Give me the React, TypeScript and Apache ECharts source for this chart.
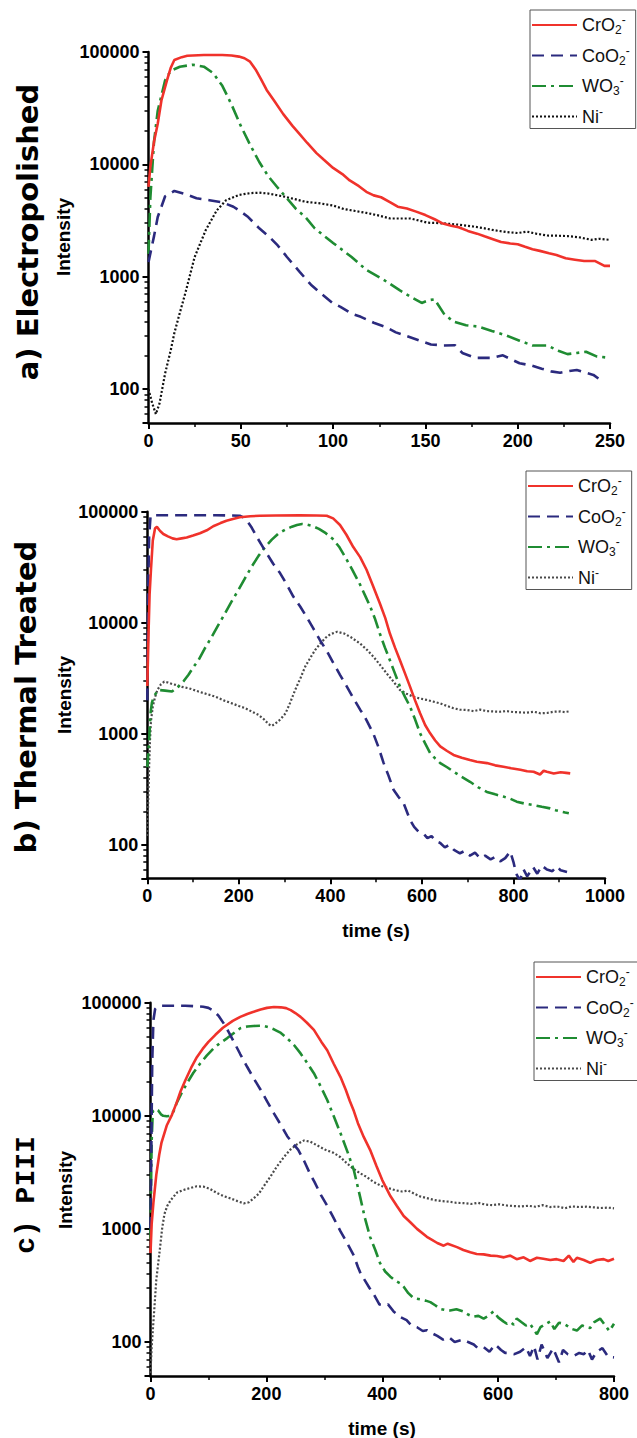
import React, { useEffect, useRef } from 'react';
import * as echarts from 'echarts';

type Pt = [number, number];

// ---------- labels ----------
const SERIES_NAMES = ['CrO2-', 'CoO2-', 'WO3-', 'Ni-'];
const Y_TICK_VALUES = [100, 1000, 10000, 100000];
const PANEL_TITLES = ['a) Electropolished', 'b) Thermal Treated', 'c) PIII'];
const Y_AXIS_TITLE = 'Intensity';
const X_AXIS_TITLE = 'time (s)';

// ---------- panel a : Electropolished (time 0-250 s) ----------
const aCrO2: Pt[] = [[0,6300],[1,9500],[3,16000],[5,23000],[7,37000],[10,56000],[12,72000],[14,85000],[18,90000],[21,92500],[30,94000],[40,94000],[45,93000],[49,91000],[52,88000],[55,82000],[58,70000],[61,57000],[64,46000],[68,37000],[73,28000],[78,22000],[82,18500],[86,15500],[91,12600],[95,11000],[100,9300],[105,8200],[109,7200],[114,6400],[118,5700],[122,5300],[126,5100],[131,4600],[135,4200],[140,4050],[145,3800],[150,3540],[155,3250],[159,3000],[164,2850],[168,2760],[173,2560],[178,2420],[182,2290],[187,2150],[191,2040],[196,1980],[200,1950],[204,1850],[208,1760],[212,1700],[217,1620],[221,1560],[226,1460],[231,1420],[236,1380],[242,1380],[247,1250],[250,1250]];
const aCoO2: Pt[] = [[0,1350],[3,2300],[5,3400],[9,5200],[14,5800],[19,5500],[26,5000],[33,4800],[40,4600],[46,4200],[50,3800],[54,3400],[60,2700],[65,2300],[70,1900],[75,1500],[82,1100],[88,850],[93,720],[100,580],[104,540],[110,470],[115,440],[122,390],[128,360],[134,320],[140,296],[147,270],[153,250],[160,245],[166,246],[170,210],[177,190],[186,190],[192,200],[201,170],[207,163],[213,152],[218,144],[223,140],[228,145],[232,148],[237,140],[241,134],[246,117]];
const aWO3: Pt[] = [[0,1600],[1,5000],[3,16000],[5,30000],[9,56000],[12,68000],[17,74000],[24,77000],[30,74000],[35,65000],[40,50000],[45,34000],[50,22000],[55,15000],[60,10500],[65,7800],[70,6200],[75,5000],[80,4000],[85,3400],[90,2700],[100,2000],[110,1500],[118,1150],[127,950],[136,760],[143,650],[148,585],[152,620],[155,630],[160,470],[165,400],[172,370],[179,360],[186,330],[194,300],[201,270],[208,245],[216,245],[222,220],[227,205],[232,210],[237,215],[243,195],[250,190]];
const aNi: Pt[] = [[0,100],[2,75],[4,60],[6,75],[9,138],[12,220],[14,316],[17,480],[20,720],[25,1500],[31,2600],[37,3900],[42,4800],[49,5350],[55,5550],[60,5600],[65,5500],[74,5150],[85,4650],[93,4500],[100,4300],[106,4000],[112,3850],[118,3700],[125,3500],[131,3300],[137,3300],[142,3300],[147,3150],[151,3030],[158,3000],[164,2950],[170,2880],[176,2800],[182,2700],[187,2600],[194,2500],[200,2450],[205,2520],[210,2420],[216,2330],[222,2320],[227,2300],[233,2250],[240,2130],[244,2180],[250,2130]];

// ---------- panel b : Thermal Treated (time 0-1000 s) ----------
const bCrO2: Pt[] = [[0,2700],[3,9000],[5,18000],[8,30000],[12,55000],[17,71000],[21,73000],[28,67000],[35,63000],[45,60000],[55,57500],[64,56500],[75,57500],[86,58500],[100,61000],[115,64000],[130,68000],[144,74000],[160,79000],[173,83000],[187,86000],[202,89000],[225,91000],[246,92000],[280,92500],[333,93000],[370,92500],[392,92000],[406,87000],[421,76000],[435,62000],[450,48000],[465,39000],[479,30000],[493,21500],[508,15000],[520,11000],[530,8000],[541,6000],[552,4600],[563,3500],[574,2660],[585,2000],[596,1530],[607,1200],[618,1010],[629,870],[640,770],[655,700],[669,645],[687,610],[705,580],[720,560],[742,545],[760,520],[778,505],[795,490],[815,475],[830,460],[844,455],[858,430],[866,465],[873,455],[888,440],[903,450],[915,445],[924,440]];
const bCoO2: Pt[] = [[0,2000],[2,20000],[4,60000],[7,90000],[10,93000],[50,93000],[100,93000],[150,93000],[202,92000],[210,89000],[217,84000],[228,72000],[239,59500],[250,50000],[261,42000],[275,34000],[290,28000],[305,22000],[319,17200],[334,14000],[348,11300],[362,9000],[377,7000],[392,5600],[407,4300],[421,3400],[436,2660],[450,2100],[465,1650],[472,1500],[480,1300],[494,1000],[505,760],[516,550],[527,420],[538,313],[549,270],[560,237],[567,200],[574,168],[583,145],[592,132],[603,127],[612,115],[621,120],[630,108],[640,104],[650,95],[660,100],[670,90],[683,84],[693,88],[705,80],[716,85],[727,76],[738,80],[750,74],[760,78],[771,71],[782,76],[793,87],[800,70],[806,55],[814,48],[822,60],[830,52],[843,63],[852,55],[862,65],[873,60],[885,58],[895,64],[903,59],[917,57]];
const bWO3: Pt[] = [[0,500],[2,650],[4,880],[7,1530],[10,1900],[14,2160],[24,2480],[39,2450],[54,2400],[68,2660],[80,3000],[90,3400],[101,4000],[112,4620],[126,5900],[141,7500],[155,9500],[170,12200],[184,15500],[199,19700],[213,25000],[228,32000],[243,40000],[258,48400],[272,56000],[287,63800],[302,69000],[316,73300],[327,76000],[338,77500],[349,76500],[360,74500],[375,70000],[390,64000],[405,57000],[419,48400],[434,38000],[448,29900],[465,22000],[477,17200],[487,14000],[497,11000],[508,8000],[519,6000],[530,4600],[541,3500],[552,2660],[563,2150],[574,1760],[585,1350],[596,1010],[607,820],[618,670],[629,600],[640,545],[655,500],[669,457],[687,410],[705,370],[723,330],[742,300],[760,285],[778,272],[793,260],[807,245],[825,235],[844,228],[862,220],[880,213],[892,205],[903,200],[913,196],[921,193]];
const bNi: Pt[] = [[0,120],[2,250],[4,507],[6,900],[8,1300],[12,1760],[17,2150],[22,2480],[30,2800],[37,2950],[45,2900],[55,2800],[62,2760],[75,2650],[91,2570],[100,2500],[112,2400],[130,2280],[149,2160],[167,2000],[185,1880],[200,1780],[214,1700],[229,1580],[243,1480],[255,1350],[265,1220],[272,1180],[280,1240],[291,1350],[302,1530],[312,1900],[323,2480],[335,3200],[345,4030],[357,4900],[367,5700],[378,6500],[389,7300],[400,7900],[415,8300],[430,8000],[445,7400],[465,6500],[480,5700],[494,4950],[508,4200],[523,3500],[538,2950],[552,2480],[566,2300],[581,2160],[595,2080],[610,2020],[625,1950],[640,1880],[655,1780],[669,1700],[683,1650],[698,1640],[713,1600],[727,1650],[742,1600],[756,1590],[770,1580],[785,1600],[800,1570],[815,1560],[829,1550],[845,1580],[859,1530],[873,1540],[888,1580],[903,1590],[912,1570],[921,1590]];

// ---------- panel c : PIII (time 0-800 s) ----------
const cCrO2: Pt[] = [[0,610],[2,1100],[5,1700],[10,3000],[15,4500],[19,5800],[28,8200],[37,10200],[45,13000],[52,16500],[60,20500],[70,26500],[80,33000],[90,39000],[100,45000],[112,52000],[125,60000],[142,69000],[155,75000],[167,79500],[178,83000],[190,87000],[201,90000],[213,91500],[225,91000],[234,89500],[242,86000],[250,81000],[259,75000],[270,66500],[282,57500],[295,45000],[305,38000],[316,29000],[328,22000],[337,17000],[344,13500],[351,11000],[358,8600],[368,6500],[379,5000],[390,3600],[400,2700],[414,1950],[425,1600],[437,1300],[448,1150],[460,1000],[477,850],[483,815],[495,750],[506,710],[513,740],[529,690],[540,650],[552,620],[563,600],[575,595],[587,580],[598,575],[610,560],[621,580],[632,540],[644,560],[655,520],[667,555],[678,545],[690,530],[701,540],[713,520],[722,580],[730,510],[736,555],[748,530],[759,500],[770,530],[782,540],[790,520],[800,545]];
const cCoO2: Pt[] = [[0,1000],[1,3000],[2,10000],[3,30000],[5,70000],[8,88000],[12,92000],[20,94000],[40,94000],[60,94000],[80,93000],[91,92000],[100,90000],[109,85000],[118,76000],[126,66000],[135,55000],[144,45000],[155,35000],[167,27000],[178,21500],[190,17000],[201,13500],[213,10500],[225,8300],[236,6600],[247,5600],[255,5000],[265,4000],[275,3100],[283,2600],[294,2000],[305,1600],[316,1250],[328,950],[340,740],[351,580],[358,460],[363,400],[370,350],[378,300],[386,260],[395,215],[404,210],[410,215],[420,185],[432,165],[442,156],[450,140],[460,135],[470,125],[477,127],[485,120],[495,113],[505,105],[515,110],[525,100],[540,105],[548,100],[558,95],[565,88],[575,90],[585,82],[595,95],[605,85],[612,80],[618,80],[628,78],[638,82],[648,90],[655,75],[662,92],[668,70],[675,95],[685,72],[695,88],[705,66],[712,85],[720,78],[730,75],[740,80],[748,78],[755,85],[762,70],[770,82],[780,88],[790,74],[800,73]];
const cWO3: Pt[] = [[0,800],[1,2500],[2,6000],[4,11000],[8,11500],[13,11200],[18,10300],[22,10000],[28,9900],[34,10000],[40,11000],[45,12900],[54,16000],[63,19400],[74,24000],[86,29100],[97,34000],[109,39500],[120,44000],[132,48400],[144,54000],[155,59400],[167,61500],[178,62300],[190,62500],[196,62300],[205,60500],[213,58200],[225,54000],[236,48400],[248,42000],[259,35600],[270,29500],[282,23800],[293,18500],[305,13800],[316,10000],[328,7000],[340,4800],[351,3300],[362,1900],[370,1250],[379,850],[388,650],[396,500],[405,420],[414,378],[422,350],[431,330],[437,308],[445,270],[454,244],[466,238],[475,232],[483,225],[492,210],[500,196],[508,192],[517,190],[528,195],[540,186],[548,175],[557,167],[566,170],[575,161],[583,170],[592,186],[600,165],[609,152],[615,145],[621,150],[627,142],[632,161],[640,150],[648,140],[655,145],[661,130],[667,117],[673,135],[680,142],[690,152],[697,130],[705,148],[713,145],[720,138],[728,130],[736,126],[745,140],[752,135],[759,133],[766,150],[776,161],[785,140],[792,125],[800,145]];
const cNi: Pt[] = [[0,53],[2,90],[5,150],[8,250],[10,355],[13,480],[16,650],[20,1000],[24,1350],[29,1600],[35,1800],[46,2100],[56,2200],[69,2300],[80,2380],[92,2360],[103,2250],[115,2070],[126,1950],[138,1860],[150,1760],[161,1680],[170,1720],[178,1860],[187,2050],[195,2360],[207,2900],[218,3550],[230,4300],[241,5000],[253,5600],[265,6050],[276,5900],[287,5500],[302,5000],[316,4700],[328,4300],[339,3800],[350,3400],[362,3100],[372,2900],[385,2600],[398,2400],[410,2300],[422,2200],[434,2140],[445,2180],[455,2050],[465,1940],[477,1870],[490,1800],[503,1760],[515,1740],[528,1700],[540,1690],[553,1660],[565,1700],[578,1640],[590,1620],[602,1650],[615,1610],[627,1590],[640,1580],[652,1600],[665,1570],[677,1620],[690,1560],[702,1580],[715,1520],[727,1580],[740,1560],[752,1570],[765,1550],[777,1530],[790,1540],[800,1520]];

// ---------- styling ----------
const RED = '#f0322b';
const NAVY = '#2b2a7e';
const GREEN = '#1f8c32';
const SANS = "'Liberation Sans', Arial, sans-serif";
const WIDE = "'DejaVu Sans', Verdana, sans-serif";
const MONO = "'Liberation Mono', 'Courier New', monospace";

const LEGEND_RICH_TEXT: Record<string, string> = {
  'CrO2-': '{m|CrO}{sb|2}{sp|-}',
  'CoO2-': '{m|CoO}{sb|2}{sp|-}',
  'WO3-': '{m|WO}{sb|3}{sp|-}',
  'Ni-': '{m|Ni}{sp|-}',
};

interface PanelCfg {
  divTop: number;
  divHeight: number;
  grid: { left: number; top: number; width: number; height: number };
  xMax: number;
  xInterval: number;
  data: Pt[][];
  niColor: string;
  legendPos: { left: number; top: number };
  title: string;
  titleFont: string;
  titlePos: [number, number];
  intensityPos: [number, number];
  timePos?: [number, number];
}

const PANELS: PanelCfg[] = [
  {
    divTop: 0, divHeight: 470,
    grid: { left: 148.5, top: 52, width: 461.5, height: 371 },
    xMax: 250, xInterval: 50,
    data: [aCrO2, aCoO2, aWO3, aNi], niColor: '#111111',
    legendPos: { left: 530, top: 10 },
    title: PANEL_TITLES[0], titleFont: `bold 29px ${WIDE}`, titlePos: [28, 232],
    intensityPos: [63, 237],
  },
  {
    divTop: 470, divHeight: 480,
    grid: { left: 147.3, top: 41.7, width: 457.7, height: 366.6 },
    xMax: 1000, xInterval: 200,
    data: [bCrO2, bCoO2, bWO3, bNi], niColor: '#4a4a4a',
    legendPos: { left: 526, top: 1 },
    title: PANEL_TITLES[1], titleFont: `bold 29px ${WIDE}`, titlePos: [26, 227],
    intensityPos: [64, 225], timePos: [376, 460],
  },
  {
    divTop: 950, divHeight: 488,
    grid: { left: 150.5, top: 52.7, width: 463.5, height: 373.3 },
    xMax: 800, xInterval: 200,
    data: [cCrO2, cCoO2, cWO3, cNi], niColor: '#4a4a4a',
    legendPos: { left: 534, top: 12 },
    title: PANEL_TITLES[2], titleFont: `bold 28px ${MONO}`, titlePos: [26, 245],
    intensityPos: [65, 240], timePos: [382, 478],
  },
];

function rotatedText(text: string, font: string, pos: [number, number]) {
  return {
    type: 'text',
    x: pos[0],
    y: pos[1],
    rotation: Math.PI / 2,
    style: {
      text,
      font,
      fill: '#000',
      align: 'center',
      verticalAlign: 'middle',
      textAlign: 'center',
      textVerticalAlign: 'middle',
    },
  };
}

function buildOption(cfg: PanelCfg): any {
  const lineStyles = [
    { color: RED, width: 2.6, type: 'solid' },
    { color: NAVY, width: 2.6, type: [12, 7] },
    { color: GREEN, width: 2.6, type: [14, 5, 3, 5] },
    { color: cfg.niColor, width: 2.2, type: [2, 2] },
  ];
  const graphic: any[] = [
    rotatedText(cfg.title, cfg.titleFont, cfg.titlePos),
    rotatedText(Y_AXIS_TITLE, `bold 19px ${SANS}`, cfg.intensityPos),
  ];
  if (cfg.timePos) {
    graphic.push({
      type: 'text',
      x: cfg.timePos[0],
      y: cfg.timePos[1],
      style: {
        text: X_AXIS_TITLE, font: `bold 19px ${SANS}`, fill: '#000',
        align: 'center', verticalAlign: 'middle', textAlign: 'center', textVerticalAlign: 'middle',
      },
    });
  }
  return {
    animation: false,
    backgroundColor: '#fff',
    grid: { ...cfg.grid, containLabel: false },
    legend: {
      orient: 'vertical',
      left: cfg.legendPos.left,
      top: cfg.legendPos.top,
      data: SERIES_NAMES,
      itemWidth: 45,
      itemHeight: 12,
      itemGap: 8.5,
      padding: [4, 6, 3, 1],
      borderColor: '#555',
      borderWidth: 1,
      backgroundColor: '#fff',
      selectedMode: false,
      itemStyle: { opacity: 0, color: 'transparent', borderColor: 'transparent', borderWidth: 0 },
      formatter: (name: string) => LEGEND_RICH_TEXT[name] || name,
      textStyle: {
        color: '#111',
        fontFamily: SANS,
        fontSize: 18,
        rich: {
          m: { fontFamily: SANS, fontSize: 18, color: '#111', lineHeight: 22 },
          sb: { fontFamily: SANS, fontSize: 12, color: '#111', lineHeight: 12, verticalAlign: 'bottom' },
          sp: { fontFamily: SANS, fontSize: 12, color: '#111', lineHeight: 12, verticalAlign: 'top' },
        },
      },
    },
    graphic,
    xAxis: {
      type: 'value',
      min: 0,
      max: cfg.xMax,
      interval: cfg.xInterval,
      axisLine: { onZero: false, lineStyle: { color: '#000', width: 2.5 } },
      axisTick: { show: true, length: 6, lineStyle: { color: '#000', width: 2 } },
      minorTick: { show: true, splitNumber: 2, length: 4, lineStyle: { color: '#000', width: 1.5 } },
      axisLabel: {
        color: '#000', fontFamily: SANS, fontWeight: 'bold', fontSize: 18, margin: 9,
        formatter: (v: number) => String(v),
      },
      splitLine: { show: false },
    },
    yAxis: {
      type: 'log',
      logBase: 10,
      min: 50,
      max: 100000,
      axisLine: { show: true, onZero: false, lineStyle: { color: '#000', width: 2.5 } },
      axisTick: { show: true, length: 6, lineStyle: { color: '#000', width: 2 } },
      minorTick: { show: true, splitNumber: 9, length: 4, lineStyle: { color: '#000', width: 1.5 } },
      axisLabel: {
        color: '#000', fontFamily: SANS, fontWeight: 'bold', fontSize: 18, margin: 9,
        formatter: (v: number) => {
          const r = Math.round(v);
          return Y_TICK_VALUES.indexOf(r) >= 0 ? String(r) : '';
        },
      },
      splitLine: { show: false },
    },
    series: SERIES_NAMES.map((name, i) => ({
      name,
      type: 'line',
      data: cfg.data[i],
      symbol: 'none',
      showSymbol: false,
      smooth: false,
      clip: true,
      lineStyle: lineStyles[i],
      itemStyle: { color: lineStyles[i].color },
      z: 10 - i,
    })),
  };
}

function Panel({ cfg }: { cfg: PanelCfg }) {
  const ref = useRef<HTMLDivElement>(null);
  useEffect(() => {
    if (!ref.current) return;
    const chart = echarts.init(ref.current, null, { renderer: 'svg' });
    chart.setOption(buildOption(cfg));
    return () => chart.dispose();
  }, [cfg]);
  return (
    <div
      ref={ref}
      style={{ position: 'absolute', left: 0, top: cfg.divTop, width: 637, height: cfg.divHeight }}
    />
  );
}

export default function App() {
  return (
    <div style={{ position: 'absolute', left: 0, top: 0, width: 637, height: 1438, background: '#fff' }}>
      {PANELS.map((p, i) => (
        <Panel key={i} cfg={p} />
      ))}
    </div>
  );
}
